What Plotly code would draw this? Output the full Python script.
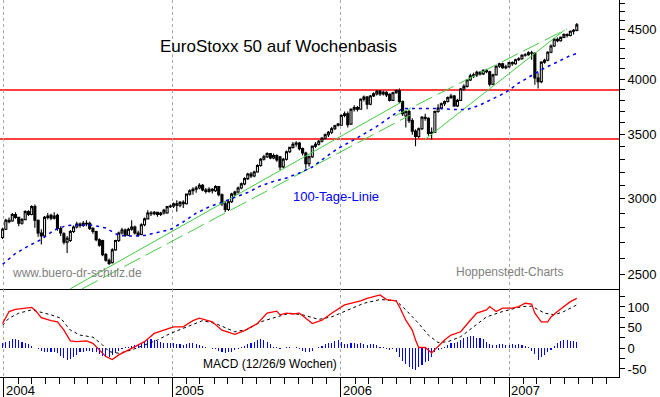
import math
import pandas as pd
import plotly.graph_objects as go

# ---------------- data ----------------
week_start = "2003-12-29"

opens = [2735,2790,2850,2845,2890,2870,2830,2855,2910,2890,
         2945,2850,2765,2745,2870,2885,2865,2885,2795,2760,
         2705,2715,2775,2805,2825,2815,2830,2830,2795,2775,
         2720,2715,2625,2590,2575,2655,2715,2765,2785,2750,
         2790,2805,2765,2755,2820,2860,2900,2895,2905,2890,
         2900,2900,2945,2950,2965,2955,2975,2965,3035,3060,
         3070,3080,3100,3065,3055,3070,3060,3090,3030,2965,
         2925,2980,3035,3050,3080,3110,3150,3185,3170,3200,
         3250,3300,3320,3345,3310,3330,3320,3240,3300,3360,
         3395,3420,3430,3385,3350,3265,3320,3405,3420,3445,
         3470,3500,3520,3550,3590,3580,3665,3680,3590,3720,
         3735,3720,3810,3830,3765,3840,3860,3885,3860,3875,
         3855,3800,3870,3890,3790,3660,3700,3620,3530,3485,
         3550,3650,3640,3510,3520,3700,3730,3770,3790,3825,
         3840,3750,3800,3905,3930,3990,4030,4040,4065,4050,
         4085,4070,3950,4040,4125,4150,4110,4120,4160,4150,
         4190,4200,4235,4240,4260,4255,4010,3975,4165,4185,
         4265,4330,4400,4385,4420,4450,4440,4485,4495]
highs = [2800,2860,2870,2900,2905,2875,2865,2920,2920,2955,
         2960,2855,2790,2880,2900,2895,2905,2895,2810,2770,
         2745,2785,2815,2840,2835,2845,2850,2840,2805,2780,
         2730,2720,2635,2600,2665,2720,2775,2800,2795,2800,
         2850,2815,2780,2830,2870,2920,2915,2915,2910,2910,
         2930,2950,2960,2975,2990,2985,2990,3040,3070,3085,
         3095,3115,3110,3080,3085,3080,3100,3095,3040,2985,
         2990,3045,3060,3090,3120,3160,3195,3200,3210,3260,
         3310,3335,3355,3350,3345,3340,3325,3310,3370,3400,
         3440,3445,3440,3395,3360,3330,3410,3440,3455,3480,
         3510,3530,3565,3585,3600,3675,3700,3700,3730,3755,
         3750,3820,3845,3840,3850,3875,3895,3895,3890,3885,
         3865,3880,3900,3910,3800,3710,3715,3640,3545,3560,
         3660,3680,3650,3560,3710,3765,3780,3800,3835,3860,
         3850,3815,3915,3950,4000,4050,4060,4080,4075,4095,
         4100,4080,4050,4135,4160,4160,4140,4170,4175,4200,
         4215,4245,4255,4275,4280,4265,4060,4175,4200,4275,
         4345,4415,4420,4430,4465,4465,4495,4510,4575]
lows = [2725,2785,2830,2840,2860,2810,2820,2850,2880,2885,
        2800,2740,2690,2740,2855,2850,2855,2780,2745,2690,
        2635,2705,2765,2795,2800,2805,2810,2785,2760,2710,
        2675,2615,2580,2560,2570,2650,2705,2755,2740,2745,
        2780,2755,2740,2750,2810,2855,2880,2885,2875,2880,
        2890,2895,2935,2935,2910,2940,2935,2960,3025,3030,
        3045,3070,3055,3040,3045,3040,3050,3020,2950,2905,
        2915,2970,3020,3040,3070,3100,3140,3155,3160,3195,
        3240,3290,3310,3300,3300,3280,3215,3230,3290,3350,
        3385,3400,3370,3330,3225,3240,3310,3390,3410,3435,
        3460,3480,3505,3540,3570,3575,3650,3560,3585,3700,
        3700,3715,3790,3720,3755,3830,3845,3840,3845,3830,
        3790,3795,3860,3775,3660,3560,3600,3500,3405,3470,
        3540,3620,3490,3460,3515,3690,3720,3750,3780,3815,
        3740,3740,3795,3890,3920,3980,4010,4020,4035,4040,
        4055,3930,3940,4035,4110,4100,4095,4110,4130,4140,
        4180,4190,4220,4230,4190,3945,3910,3960,4150,4175,
        4255,4320,4370,4375,4410,4420,4430,4450,4485]
closes = [2790,2850,2840,2890,2870,2830,2855,2910,2890,2945,
          2850,2765,2745,2870,2880,2865,2880,2795,2765,2705,
          2730,2775,2805,2825,2815,2830,2825,2795,2775,2720,
          2685,2625,2590,2570,2655,2715,2765,2785,2750,2790,
          2805,2765,2750,2820,2860,2900,2895,2905,2890,2900,
          2920,2945,2950,2965,2955,2975,2965,3035,3060,3070,
          3080,3100,3065,3055,3070,3060,3090,3030,2965,2925,
          2980,3035,3050,3080,3110,3150,3185,3170,3200,3250,
          3300,3320,3345,3310,3330,3295,3240,3300,3360,3395,
          3420,3430,3385,3350,3265,3320,3405,3420,3445,3470,
          3500,3520,3550,3575,3580,3665,3680,3585,3720,3735,
          3720,3810,3830,3765,3840,3860,3885,3860,3875,3850,
          3800,3870,3890,3790,3680,3700,3620,3530,3485,3550,
          3650,3640,3510,3520,3700,3730,3770,3790,3825,3840,
          3750,3800,3905,3930,3990,4030,4040,4065,4050,4085,
          4070,3950,4040,4125,4150,4110,4120,4160,4150,4190,
          4200,4235,4240,4260,4255,4010,3975,4165,4185,4265,
          4330,4400,4385,4420,4450,4440,4485,4495,4555]

# 100-Tage-Linie (every 4th week)
ma_weeks = [0,4,8,12,16,20,24,28,32,36,40,44,48,52,56,60,64,68,72,76,80,84,88,92,
            96,100,104,108,112,116,120,124,128,132,136,140,144,148,152,156,160,164,
            168,172,176,178]
ma_values = [2565,2632,2680,2722,2785,2815,2818,2816,2798,2748,2744,2748,2768,2788,
             2839,2899,2943,2975,3011,3047,3095,3129,3155,3193,3239,3314,3387,3444,
             3506,3570,3648,3728,3728,3728,3726,3718,3718,3758,3813,3873,3962,4038,
             4107,4167,4232,4252]

# trend lines (start/end date, start/end price)
trend_solid = [(("2004-05-23", "2006-05-14"), (2417, 3788)),
               (("2006-07-02", "2007-05-02"), (3458, 4500))]
trend_dashed = [(("2004-06-18", "2006-05-31"), (2417, 3668)),
                (("2006-04-28", "2007-05-07"), (3660, 4511))]

# horizontal resistance / support levels
levels = [3896, 3464]

# MACD (12/26/9)
macd_weeks = [0,2,4,7,9,10,12,15,17,19,21,23,26,28,30,32,34,36,40,44,47,50,53,56,59,61,
              65,68,72,75,79,82,85,86,88,90,92,94,96,99,102,106,108,111,113,115,117,119,
              122,123,125,127,128,129,131,133,135,137,139,142,145,147,150,151,153,155,
              158,160,162,164,165,167,169,170,172,174,176,178]
macd_values = [60,89,94,96,99,93,74,67,64,44,18,16,18,12,-4,-20,-27,-16,0,16,36,44,52,52,
               67,73,64,44,34,43,60,85,90,81,85,83,85,73,60,68,85,105,109,115,121,125,129,
               118,115,101,68,44,20,2,2,-11,4,20,32,40,68,85,93,101,89,97,97,101,109,107,
               85,64,64,76,89,101,113,121]
signal_weeks = [0,2,5,9,11,15,18,21,24,28,31,33,36,40,44,48,52,57,62,66,72,76,80,85,89,
                93,98,102,107,112,117,122,125,129,132,135,138,142,146,150,155,161,164,168,
                171,174,178]
signal_values = [56,73,85,93,89,81,73,44,32,27,8,-8,-12,-4,8,20,36,52,67,60,40,46,64,76,
                 85,81,70,76,93,109,118,115,93,60,32,14,16,28,52,76,89,101,102,85,81,89,105]
hist_values = [12,16,18,22,23,20,16,12,10,6,
               0,-2,-6,-8,-8,-8,-10,-12,-18,-24,
               -28,-26,-22,-16,-10,-8,-6,-6,-8,-10,
               -14,-18,-22,-20,-16,-12,-6,-2,2,4,
               6,8,10,14,18,20,22,20,18,16,
               14,12,12,12,10,10,8,10,12,12,
               10,8,6,2,0,-2,-2,-6,-10,-12,
               -10,-8,-4,-1,2,6,10,12,16,20,
               22,20,16,10,4,2,-2,0,2,2,
               0,2,-2,-6,-10,-10,-6,0,2,6,
               10,12,14,18,20,16,10,10,12,14,
               10,12,10,8,10,10,8,4,2,-2,
               -4,-2,-10,-20,-30,-38,-46,-50,-52,-46,
               -40,-34,-30,-20,-10,-4,-2,4,8,12,
               14,16,20,24,28,30,30,26,24,22,
               16,10,8,8,10,10,8,8,10,8,
               10,8,6,2,-6,-14,-28,-20,-16,-10,
               -4,6,12,18,20,20,18,18,16]

# axis ticks / labels
years = ["2004-01-01", "2005-01-01", "2006-01-01", "2007-01-01"]
year_labels = ["2004", "2005", "2006", "2007"]
price_ticks = list(range(2500, 4900, 100))
price_labels = [str(v) if v % 500 == 0 else "" for v in price_ticks]
macd_ticks = [-75, -50, -25, 0, 25, 50, 75, 100, 125]
macd_labels = ["", "-50", "", "0", "", "50", "", "100", ""]

title_text = "EuroStoxx 50 auf Wochenbasis"
ma_label = "100-Tage-Linie"
source_left = "www.buero-dr-schulz.de"
source_right = "Hoppenstedt-Charts"
macd_label = "MACD (12/26/9 Wochen)"

# ---------------- figure ----------------
weeks = pd.date_range(week_start, periods=len(closes), freq="7D")
def at(idx):
    return [weeks[i] for i in idx]

W, H = 660, 397
ML, MR, MT, MB = 0, 41, 0, 20
PW, PH = W - ML - MR, H - MT - MB
split = (377 - 289) / PH

x_range = ["2003-12-23 08:00", "2007-08-27 14:00"]
GREEN = "#44cc44"

fig = go.Figure()

for (d, p) in trend_solid:
    fig.add_trace(go.Scatter(x=list(d), y=list(p), mode="lines", xaxis="x", yaxis="y",
                             line=dict(color=GREEN, width=1), hoverinfo="skip"))
for (d, p) in trend_dashed:
    fig.add_trace(go.Scatter(x=list(d), y=list(p), mode="lines", xaxis="x", yaxis="y",
                             line=dict(color=GREEN, width=1, dash="18px,6px"), hoverinfo="skip"))

fig.add_trace(go.Candlestick(
    x=weeks, open=opens, high=highs, low=lows, close=closes, xaxis="x", yaxis="y",
    increasing=dict(line=dict(color="black", width=1.1), fillcolor="white"),
    decreasing=dict(line=dict(color="black", width=1.1), fillcolor="black"),
    whiskerwidth=0, hoverinfo="skip"))

fig.add_trace(go.Scatter(x=at(ma_weeks), y=ma_values, mode="lines", xaxis="x", yaxis="y",
                         line=dict(color="#0000ff", width=1.5, dash="3px,4px"), hoverinfo="skip"))

# MACD panel
fig.add_trace(go.Bar(x=weeks, y=hist_values, xaxis="x2", yaxis="y2",
                     marker=dict(color="#0000ff", line=dict(width=0)),
                     width=1000 * 3600 * 24 * 2.4, hoverinfo="skip"))
fig.add_trace(go.Scatter(x=at(signal_weeks), y=signal_values, mode="lines", xaxis="x2", yaxis="y2",
                         line=dict(color="black", width=1, dash="3px,3px"), hoverinfo="skip"))
fig.add_trace(go.Scatter(x=at(macd_weeks), y=macd_values, mode="lines", xaxis="x2", yaxis="y2",
                         line=dict(color="#ff0000", width=1.3), hoverinfo="skip"))

shapes = []
for lv in levels:
    shapes.append(dict(type="line", xref="x domain", yref="y", x0=0, x1=1, y0=lv, y1=lv,
                       line=dict(color="#ff0000", width=1.4), layer="below"))

FONT = "Liberation Sans, Arial, sans-serif"
def px_x(x):
    return (x - ML) / PW
def px_y(y):
    return (H - MB - y) / PH

annotations = [
    dict(text=title_text, x=px_x(158), y=px_y(46.5), font=dict(size=17, color="black")),
    dict(text=ma_label, x=px_x(291), y=px_y(196.5), font=dict(size=13, color="#0000ff")),
    dict(text=source_left, x=px_x(10), y=px_y(273), font=dict(size=12, color="#808080")),
    dict(text=source_right, x=px_x(454), y=px_y(272), font=dict(size=12, color="#808080")),
    dict(text=macd_label, x=px_x(201), y=px_y(363.5), font=dict(size=12, color="black")),
]
for a in annotations:
    a.update(xref="paper", yref="paper", xanchor="left", yanchor="middle", showarrow=False)
for yr, lab in zip(years, year_labels):
    annotations.append(dict(text=lab, x=yr, xref="x2", y=px_y(390), yref="paper",
                            xanchor="left", yanchor="middle", showarrow=False, xshift=0,
                            font=dict(size=13, color="black")))

fig.update_layout(
    width=W, height=H, margin=dict(l=ML, r=MR, t=MT, b=MB, autoexpand=False),
    paper_bgcolor="white", plot_bgcolor="white", showlegend=False,
    font=dict(family=FONT, size=13, color="black"),
    bargap=0, boxgap=0.12,
    xaxis=dict(domain=[0, 1], anchor="y", type="date", range=x_range,
               rangeslider=dict(visible=False), tickmode="array", tickvals=years,
               showticklabels=False, ticks="", showgrid=True, gridcolor="#a8a8a8",
               griddash="dot", gridwidth=1, showline=True, linecolor="black", linewidth=1,
               zeroline=False),
    xaxis2=dict(domain=[0, 1], anchor="y2", type="date", range=x_range,
                tickmode="array", tickvals=years, showticklabels=False,
                ticks="outside", ticklen=20, tickcolor="black", tickwidth=1,
                showgrid=True, gridcolor="#a8a8a8", griddash="dot", gridwidth=1,
                showline=True, linecolor="black", linewidth=1, zeroline=False,
                minor=dict(tickmode="linear", tick0="2004-01-01", dtick="M1",
                           ticks="outside", ticklen=6, tickcolor="black", showgrid=False)),
    yaxis=dict(domain=[split, 1], anchor="x", side="right", type="log",
               range=[math.log10(2417), math.log10(4835)],
               tickmode="array", tickvals=price_ticks, ticktext=price_labels,
               ticks="outside", ticklen=5, tickcolor="black",
               showline=True, linecolor="black", linewidth=1, showgrid=False, zeroline=False,
               tickfont=dict(size=13)),
    yaxis2=dict(domain=[0, split], anchor="x2", side="right", range=[-69.4, 143.5],
                tickmode="array", tickvals=macd_ticks, ticktext=macd_labels,
                ticks="outside", ticklen=5, tickcolor="black",
                showline=True, linecolor="black", linewidth=1, showgrid=False, zeroline=False,
                tickfont=dict(size=13)),
    shapes=shapes,
    annotations=annotations,
)

fig.write_html("out.html", config={"displayModeBar": False, "staticPlot": True},
               post_script="document.body.style.margin='0';document.body.style.overflow='hidden';")
